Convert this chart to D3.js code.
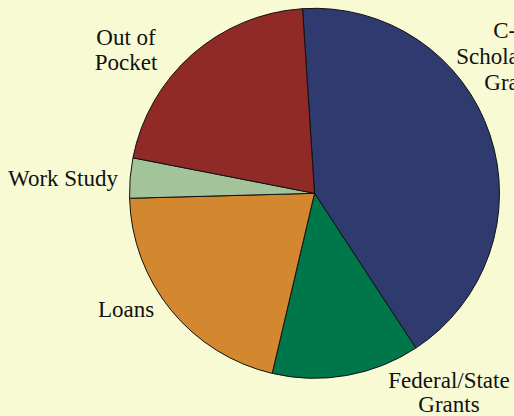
<!DOCTYPE html>
<html>
<head>
<meta charset="utf-8">
<script src="https://cdn.jsdelivr.net/npm/d3@7"></script>
<style>
  html, body { margin: 0; padding: 0; background: #f7fad3; }
  svg { display: block; }
</style>
</head>
<body>
<svg id="pie" width="514" height="416"></svg>
<script>
// funding sources, in order clockwise from the top
var sources = ["C-M Scholarships Grants", "Federal/State Grants", "Loans", "Work Study", "Out of Pocket"];
var shares = [41.8, 12.9, 20.9, 3.5, 20.9];
var colors = ["#2f3a6e", "#00774a", "#d3882f", "#a3c39a", "#8f2a26"];

// label lines and where they sit (centre x, first baseline y, line step)
var labelLines = [["C-M", "Scholarships", "Grants"], ["Federal/State", "Grants"], ["Loans"], ["Work Study"], ["Out of", "Pocket"]];
var labelPos = [[515, 38, 26], [449, 388, 24], [126, 317, 25], [63, 186, 25], [126, 45, 25]];

var width = 514, height = 416;
var cx = 314.5, cy = 193.3, radius = 185;

var svg = d3.select("#pie");

svg.append("rect")
   .attr("width", width)
   .attr("height", height)
   .attr("fill", "#f7fad3");

var start = -3.7 * Math.PI / 180;

var pie = d3.pie()
    .sort(null)
    .value(function (d) { return d; })
    .startAngle(start)
    .endAngle(start + 2 * Math.PI);

var arc = d3.arc()
    .innerRadius(0)
    .outerRadius(radius);

var g = svg.append("g")
    .attr("transform", "translate(" + cx + "," + cy + ")");

g.selectAll("path")
 .data(pie(shares))
 .enter()
 .append("path")
 .attr("d", arc)
 .attr("fill", function (d, i) { return colors[i]; })
 .attr("stroke", "#111")
 .attr("stroke-width", 1)
 .attr("stroke-linejoin", "round");

var labels = svg.selectAll("text.label")
    .data(sources)
    .enter()
    .append("text")
    .attr("class", "label")
    .attr("x", function (d, i) { return labelPos[i][0]; })
    .attr("y", function (d, i) { return labelPos[i][1]; })
    .attr("text-anchor", "middle")
    .attr("font-family", "'Liberation Serif', 'Times New Roman', serif")
    .attr("font-size", "23px")
    .attr("fill", "#111");

labels.each(function (d, i) {
  var t = d3.select(this);
  labelLines[i].forEach(function (line, j) {
    t.append("tspan")
     .attr("x", labelPos[i][0])
     .attr("dy", j == 0 ? 0 : labelPos[i][2])
     .text(line);
  });
});
</script>
</body>
</html>
